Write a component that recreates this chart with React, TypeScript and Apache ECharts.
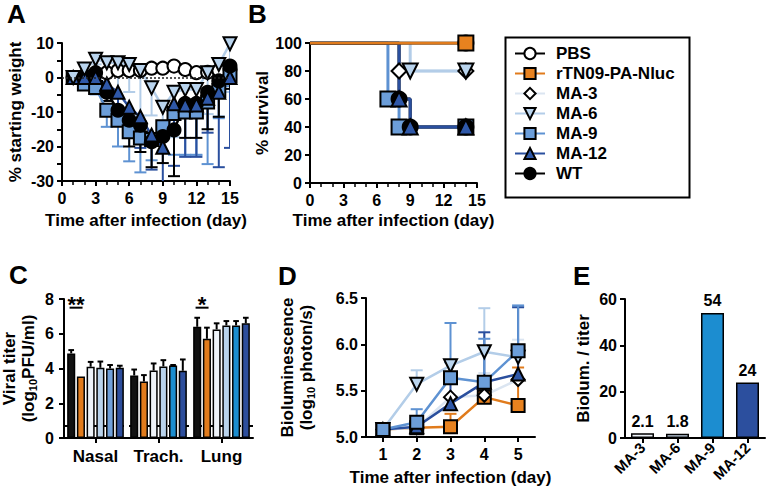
import React, { useEffect, useRef } from 'react';
import * as echarts from 'echarts';

const FONT = '"Liberation Sans", Arial, Helvetica, sans-serif';

// ---------- Panel A: % starting weight ----------
const weightDays = [1, 2, 3, 4, 5, 6, 7, 8, 9, 10, 11, 12, 13, 14, 15];
const weightPBS = [0, 0.5, 1, 1.4, 2, 2, 2, 2.7, 2.7, 3.3, 2.3, 1.4, 1.5, 2, 2.5];
const weightMA6 = [0, 2.5, 5.3, 4.3, 4.3, 3.8, 2, -3, -8.6, -4.3, -3.5, -3.5, 1.4, 3.8, 9.8];
const weightMA6sd = [0, 1, 1.5, 3, 10, 8, 13, 8, 5, 13, 19, 19, 12, 15, 14];
const weightMA9 = [0, -1.9, -2.9, -9.5, -12.4, -15.7, -17.5, -18, -14.3, -10.4, -10, -10, -7.1, -3.8, 0.5];
const weightMA9sd = [0, 1, 2, 4.8, 7.6, 8.6, 10, 6, 7, 12, 12.4, 12.4, 18, 8, 3];
const weightMA12 = [0, 0, 0, -1.9, -4.3, -8.6, -11.4, -16.7, -20.2, -7.6, -8, -8, -6, -4.3, 0];
const weightMA12sd = [0, 0.5, 1, 3, 5, 7, 9, 10, 12, 18, 15, 15, 10, 21.7, 20.4];
const weightWT = [0, 0, 1.4, -4.3, -9.5, -12.4, -13.8, -18.6, -17.1, -15.2, -7.5, -7.5, -4.3, -1, 3.3];
const weightWTsd = [0, 0.5, 1, 2.5, 3, 7.6, 7.8, 7.4, 7.7, 13.4, 10, 10, 10.7, 10.4, 6.6];

// ---------- Panel B: % survival ----------
const survPBSdays = [0, 14];
const survPBSpct = [100, 100];
const survRTdays = [0, 14];
const survRTpct = [100, 100];
const survMA3days = [0, 8, 14];
const survMA3pct = [100, 80, 80];
const survMA6days = [0, 9, 14];
const survMA6pct = [100, 80, 80];
const survMA9days = [0, 7, 8, 14];
const survMA9pct = [100, 60, 40, 40];
const survMA12days = [0, 8, 9, 14];
const survMA12pct = [100, 60, 40, 40];
const survWTdays = [0, 8, 9, 14];
const survWTpct = [100, 60, 40, 40];

// ---------- Panel C: viral titer ----------
const tissues = ['Nasal', 'Trach.', 'Lung'];
const titerWT = [4.87, 3.6, 6.4];
const titerWTsd = [0.19, 0.34, 0.52];
const titerRT = [3.54, 3.25, 5.71];
const titerRTsd = [0, 0.37, 0.64];
const titerMA3 = [4.1, 3.88, 6.25];
const titerMA3sd = [0.28, 0.41, 0.35];
const titerMA6 = [4.04, 4.12, 6.48];
const titerMA6sd = [0.36, 0.36, 0.25];
const titerMA9 = [4.0, 4.17, 6.48];
const titerMA9sd = [0.2, 0.03, 0.25];
const titerMA12 = [4.04, 3.87, 6.6];
const titerMA12sd = [0.12, 0.65, 0.32];
const detectionLimit = 0.7;
const sigCategory = [0, 2];
const sigLabel = ['**', '*'];
const sigHeight = 7.5;

// ---------- Panel D: bioluminescence ----------
const lumDays = ['1', '2', '3', '4', '5'];
const lumRT = [5.08, 5.1, 5.11, 5.43, 5.34];
const lumRTup = [null, null, 5.25, null, 5.75];
const lumMA3 = [5.08, 5.1, 5.43, 5.45, 5.62];
const lumMA3up = [null, null, null, 5.69, 6.05];
const lumMA6 = [5.08, 5.57, 5.77, 5.92, 5.86];
const lumMA6up = [null, 5.72, 5.8, 6.39, 6.41];
const lumMA9 = [5.08, 5.16, 5.64, 5.59, 5.93];
const lumMA9up = [null, 5.3, 6.23, 6.06, 6.42];
const lumMA12 = [5.08, 5.11, 5.36, 5.59, 5.68];
const lumMA12up = [null, null, 5.81, 6.13, 6.4];

// ---------- Panel E: bioluminescence / titer ----------
const ratioLabels = ['MA-3', 'MA-6', 'MA-9', 'MA-12'];
const ratioValues = [2.1, 1.8, 54, 24];

// ---------- styles ----------
const LINE: Record<string, string> = {
  PBS: '#000000', RT: '#e07b1c', MA3: '#dbe5f1', MA6: '#b3cde8', MA9: '#5e92d2', MA12: '#2a4f9e', WT: '#000000',
};
const FILL: Record<string, string> = {
  PBS: '#ffffff', RT: '#e8821f', MA3: '#ffffff', MA6: '#b9d4ee', MA9: '#6c9ed9', MA12: '#2f58a8', WT: '#000000',
};
const SYM: Record<string, string> = {
  PBS: 'circle', RT: 'rect', MA3: 'diamond', MA6: 'path://M0,0L20,0L10,18Z', MA9: 'rect', MA12: 'triangle', WT: 'circle',
};
const NAMES: Record<string, string> = {
  PBS: 'PBS', RT: 'rTN09-PA-Nluc', MA3: 'MA-3', MA6: 'MA-6', MA9: 'MA-9', MA12: 'MA-12', WT: 'WT',
};
const BAR_C = {
  WT: '#111111', RT: '#e07b1c', MA3: '#eef3f9', MA6: '#b9d3ec', MA9: ['#6f9fd8', '#1b8dcf', '#1b8dcf'], MA12: '#2d4e9c',
};
const BAR_E = ['#edf2f8', '#c4d4e6', '#1c8dd0', '#2c4f9e'];
const C_BARS = 6;
const C_GAP = 0.2;
const C_CAT_GAP = 0.1;

function axis(extra: any, label: any = {}, name: any = {}) {
  return {
    axisLine: { show: true, onZero: false, lineStyle: { color: '#000', width: 2 } },
    axisTick: { show: true, length: 5, lineStyle: { color: '#000', width: 2 } },
    axisLabel: { color: '#000', fontSize: 16, fontWeight: 'bold', fontFamily: FONT, margin: 8, hideOverlap: false, ...label },
    splitLine: { show: false },
    nameLocation: 'middle',
    nameTextStyle: { color: '#000', fontSize: 17, fontWeight: 'bold', fontFamily: FONT, ...name },
    ...extra,
  };
}

const minorDay = { show: true, splitNumber: 3, length: 4, lineStyle: { color: '#000', width: 1.5 } };

function lineSeries(key: string, grid: number, data: any[], extra: any = {}) {
  return {
    type: 'line',
    name: NAMES[key],
    xAxisIndex: grid,
    yAxisIndex: grid,
    data,
    z: 3,
    symbol: SYM[key],
    symbolSize: 13,
    lineStyle: { color: LINE[key], width: 2.5 },
    itemStyle: { color: FILL[key], borderColor: '#000', borderWidth: 2 },
    emphasis: { disabled: true },
    ...extra,
  };
}

function survival(key: string, days: number[], pct: number[]) {
  const data = days.map((d, i) => (i === 0 ? { value: [d, pct[i]], symbol: 'none' } : [d, pct[i]]));
  return lineSeries(key, 1, data, { step: 'end', symbolSize: 15, lineStyle: { color: LINE[key], width: 3 } });
}

function downErr(key: string, mean: number[], sd: number[]) {
  const data = weightDays.map((d, i) => [d, mean[i], mean[i] - sd[i], sd[i]]).filter((r) => r[3] > 0);
  return {
    type: 'custom',
    xAxisIndex: 0,
    yAxisIndex: 0,
    z: 2,
    clip: true,
    data,
    renderItem: (params: any, api: any) => {
      const a = api.coord([api.value(0), api.value(1)]);
      const b = api.coord([api.value(0), api.value(2)]);
      const st = { stroke: LINE[key], lineWidth: 2 };
      return {
        type: 'group',
        children: [
          { type: 'line', shape: { x1: a[0], y1: a[1], x2: b[0], y2: b[1] }, style: st },
          { type: 'line', shape: { x1: b[0] - 6, y1: b[1], x2: b[0] + 6, y2: b[1] }, style: st },
        ],
      };
    },
  };
}

function upErrD(key: string, mean: number[], up: (number | null)[]) {
  const data = mean.map((m, i) => [i, m, up[i]]).filter((r) => r[2] !== null);
  return {
    type: 'custom',
    xAxisIndex: 3,
    yAxisIndex: 3,
    z: 2,
    data,
    renderItem: (params: any, api: any) => {
      const a = api.coord([api.value(0), api.value(1)]);
      const b = api.coord([api.value(0), api.value(2)]);
      const st = { stroke: LINE[key], lineWidth: 2 };
      return {
        type: 'group',
        children: [
          { type: 'line', shape: { x1: a[0], y1: a[1], x2: b[0], y2: b[1] }, style: st },
          { type: 'line', shape: { x1: b[0] - 6, y1: b[1], x2: b[0] + 6, y2: b[1] }, style: st },
        ],
      };
    },
  };
}

function barGeom(api: any, cat: number, idx: number) {
  const band = api.size([1, 0])[0];
  const total = band * (1 - C_CAT_GAP);
  const w = total / (C_BARS + (C_BARS - 1) * C_GAP);
  const center = api.coord([cat, 0])[0];
  return { x: center - total / 2 + w / 2 + idx * w * (1 + C_GAP), w };
}

function barSeriesC(name: string, values: number[], color: any, extra: any = {}) {
  return {
    type: 'bar',
    name,
    xAxisIndex: 2,
    yAxisIndex: 2,
    z: 3,
    data: values,
    barGap: `${C_GAP * 100}%`,
    barCategoryGap: `${C_CAT_GAP * 100}%`,
    itemStyle: {
      color: Array.isArray(color) ? (p: any) => color[p.dataIndex] : color,
      borderColor: '#000',
      borderWidth: 1.5,
    },
    emphasis: { disabled: true },
    ...extra,
  };
}

export default function App() {
  const ref = useRef<HTMLDivElement>(null);

  useEffect(() => {
    const chart = echarts.init(ref.current!, null, { renderer: 'svg' });

    const cMeans = [titerWT, titerRT, titerMA3, titerMA6, titerMA9, titerMA12];
    const cSds = [titerWTsd, titerRTsd, titerMA3sd, titerMA6sd, titerMA9sd, titerMA12sd];
    const cErrData: number[][] = [];
    cMeans.forEach((arr, s) =>
      arr.forEach((m, c) => {
        if (cSds[s][c] > 0) cErrData.push([c, s, m, m + cSds[s][c]]);
      })
    );

    const tickCat = { show: true, alignWithLabel: true, length: 5, lineStyle: { color: '#000', width: 2 } };

    const option: any = {
      animation: false,
      backgroundColor: '#ffffff',
      textStyle: { fontFamily: FONT },
      grid: [
        { left: 62, top: 43, width: 168, height: 138 },
        { left: 310, top: 43, width: 167, height: 140 },
        { left: 61, top: 299, width: 192, height: 139 },
        { left: 366, top: 298, width: 169, height: 139 },
        { left: 625, top: 299, width: 140, height: 139 },
      ],
      xAxis: [
        axis({ gridIndex: 0, type: 'value', min: 0, max: 15, interval: 3, minorTick: minorDay, name: 'Time after infection (day)', nameGap: 31 }, { margin: 9 }),
        axis({ gridIndex: 1, type: 'value', min: 0, max: 15, interval: 3, minorTick: minorDay, name: 'Time after infection (day)', nameGap: 29 }, { margin: 9 }),
        axis({ gridIndex: 2, type: 'category', data: tissues, axisTick: tickCat }, { fontSize: 17, margin: 10, interval: 0 }),
        axis({ gridIndex: 3, type: 'category', data: lumDays, axisTick: tickCat, name: 'Time after infection (day)', nameGap: 32 }, { margin: 9, interval: 0 }),
        axis({ gridIndex: 4, type: 'category', data: ratioLabels, axisTick: tickCat }, { rotate: 45, fontSize: 15, margin: 7, interval: 0 }),
      ],
      yAxis: [
        axis({ gridIndex: 0, type: 'value', min: -30, max: 10, interval: 10, minorTick: { show: true, splitNumber: 2, length: 5, lineStyle: { color: '#000', width: 2 } }, name: '% starting weight', nameGap: 38 }),
        axis({ gridIndex: 1, type: 'value', min: 0, max: 100, interval: 20, name: '% survival', nameGap: 38 }),
        axis(
          {
            gridIndex: 2, type: 'value', min: 0, max: 8, interval: 2,
            name: '{t|Viral titer}\n{t|(log}{s|10}{t|PFU/ml)}', nameGap: 26,
          },
          { margin: 10 },
          {
            rich: {
              t: { fontSize: 17, fontWeight: 'bold', fontFamily: FONT, color: '#000', lineHeight: 19, verticalAlign: 'middle' },
              s: { fontSize: 11, fontWeight: 'bold', fontFamily: FONT, color: '#000', lineHeight: 19, verticalAlign: 'bottom' },
            },
          }
        ),
        axis(
          {
            gridIndex: 3, type: 'value', min: 5, max: 6.5, interval: 0.5,
            name: '{t|Bioluminescence}\n{t|(log}{s|10}{t| photon/s)}', nameGap: 50,
          },
          { formatter: (v: number) => v.toFixed(1) },
          {
            rich: {
              t: { fontSize: 17, fontWeight: 'bold', fontFamily: FONT, color: '#000', lineHeight: 19, verticalAlign: 'middle' },
              s: { fontSize: 11, fontWeight: 'bold', fontFamily: FONT, color: '#000', lineHeight: 19, verticalAlign: 'bottom' },
            },
          }
        ),
        axis({ gridIndex: 4, type: 'value', min: 0, max: 60, interval: 20, name: 'Biolum. / titer', nameGap: 33 }),
      ],
      legend: {
        left: 514,
        top: 45,
        orient: 'vertical',
        selectedMode: false,
        itemWidth: 30,
        itemHeight: 14,
        itemGap: 3,
        padding: 0,
        data: ['PBS', 'rTN09-PA-Nluc', 'MA-3', 'MA-6', 'MA-9', 'MA-12', 'WT'],
        textStyle: { color: '#000', fontSize: 17, fontWeight: 'bold', fontFamily: FONT, padding: [0, 0, 0, 6] },
      },
      graphic: [
        { type: 'rect', left: 503, top: 35, shape: { width: 184, height: 160 }, style: { fill: 'none', stroke: '#000', lineWidth: 2 } },
        { type: 'text', left: 7, top: 1, style: { text: 'A', font: `bold 26px ${FONT}`, fill: '#000' } },
        { type: 'text', left: 248, top: 1, style: { text: 'B', font: `bold 26px ${FONT}`, fill: '#000' } },
        { type: 'text', left: 9, top: 262, style: { text: 'C', font: `bold 26px ${FONT}`, fill: '#000' } },
        { type: 'text', left: 278, top: 263, style: { text: 'D', font: `bold 26px ${FONT}`, fill: '#000' } },
        { type: 'text', left: 573, top: 263, style: { text: 'E', font: `bold 26px ${FONT}`, fill: '#000' } },
      ],
      series: [
        // B: survival (first so legend icons come from here)
        survival('MA3', survMA3days, survMA3pct),
        survival('MA6', survMA6days, survMA6pct),
        survival('MA9', survMA9days, survMA9pct),
        survival('WT', survWTdays, survWTpct),
        survival('MA12', survMA12days, survMA12pct),
        survival('PBS', survPBSdays, survPBSpct),
        survival('RT', survRTdays, survRTpct),

        // A: weight
        downErr('MA6', weightMA6, weightMA6sd),
        downErr('MA9', weightMA9, weightMA9sd),
        downErr('MA12', weightMA12, weightMA12sd),
        downErr('WT', weightWT, weightWTsd),
        lineSeries('PBS', 0, weightDays.map((d, i) => [d, weightPBS[i]]), {
          lineStyle: { color: LINE.PBS, width: 1.5 },
          markLine: {
            silent: true, symbol: 'none', label: { show: false },
            lineStyle: { type: [2, 2], color: '#222', width: 1.5 },
            data: [{ yAxis: 0 }],
          },
        }),
        lineSeries('MA9', 0, weightDays.map((d, i) => [d, weightMA9[i]])),
        lineSeries('WT', 0, weightDays.map((d, i) => [d, weightWT[i]])),
        lineSeries('MA12', 0, weightDays.map((d, i) => [d, weightMA12[i]])),
        lineSeries('MA6', 0, weightDays.map((d, i) => [d, weightMA6[i]])),

        // C: detection limit (behind bars)
        {
          type: 'line',
          name: 'C detection limit',
          xAxisIndex: 2,
          yAxisIndex: 2,
          z: 1,
          data: [],
          markLine: {
            silent: true, symbol: 'none', label: { show: false }, z: 1,
            lineStyle: { type: [8, 5], color: '#000', width: 2 },
            data: [{ yAxis: detectionLimit }],
          },
        },
        // C: viral titer bars
        barSeriesC('C WT', titerWT, BAR_C.WT),
        barSeriesC('C rTN09-PA-Nluc', titerRT, BAR_C.RT),
        barSeriesC('C MA-3', titerMA3, BAR_C.MA3),
        barSeriesC('C MA-6', titerMA6, BAR_C.MA6),
        barSeriesC('C MA-9', titerMA9, BAR_C.MA9),
        barSeriesC('C MA-12', titerMA12, BAR_C.MA12),
        {
          type: 'custom',
          xAxisIndex: 2,
          yAxisIndex: 2,
          z: 4,
          data: cErrData,
          renderItem: (params: any, api: any) => {
            const g = barGeom(api, api.value(0), api.value(1));
            const y1 = api.coord([api.value(0), api.value(2)])[1];
            const y2 = api.coord([api.value(0), api.value(3)])[1];
            const st = { stroke: '#000', lineWidth: 2 };
            return {
              type: 'group',
              children: [
                { type: 'line', shape: { x1: g.x, y1, x2: g.x, y2 }, style: st },
                { type: 'line', shape: { x1: g.x - g.w * 0.35, y1: y2, x2: g.x + g.w * 0.35, y2 }, style: st },
              ],
            };
          },
        },
        {
          type: 'custom',
          xAxisIndex: 2,
          yAxisIndex: 2,
          z: 4,
          data: sigCategory.map((c, i) => [c, sigHeight, i]),
          renderItem: (params: any, api: any) => {
            const a = barGeom(api, api.value(0), 0);
            const b = barGeom(api, api.value(0), 1);
            const y = api.coord([api.value(0), api.value(1)])[1];
            return {
              type: 'group',
              children: [
                { type: 'line', shape: { x1: a.x - a.w * 0.2, y1: y, x2: b.x + b.w * 0.2, y2: y }, style: { stroke: '#000', lineWidth: 2 } },
                {
                  type: 'text',
                  style: {
                    text: sigLabel[api.value(2)], x: (a.x + b.x) / 2, y: y - 3,
                    align: 'center', verticalAlign: 'middle',
                    font: `bold 22px ${FONT}`, fill: '#000',
                  },
                },
              ],
            };
          },
        },

        // D: bioluminescence
        upErrD('RT', lumRT, lumRTup),
        upErrD('MA6', lumMA6, lumMA6up),
        upErrD('MA3', lumMA3, lumMA3up),
        upErrD('MA12', lumMA12, lumMA12up),
        upErrD('MA9', lumMA9, lumMA9up),
        lineSeries('RT', 3, lumRT),
        lineSeries('MA6', 3, lumMA6),
        lineSeries('MA3', 3, lumMA3),
        lineSeries('MA12', 3, lumMA12),
        lineSeries('MA9', 3, lumMA9),

        // E: ratio bars
        {
          type: 'bar',
          name: 'Biolum. / titer',
          xAxisIndex: 4,
          yAxisIndex: 4,
          data: ratioValues,
          barWidth: 23,
          itemStyle: { color: (p: any) => BAR_E[p.dataIndex], borderColor: '#000', borderWidth: 1.5 },
          label: { show: true, position: 'top', distance: 4, color: '#000', fontSize: 16, fontWeight: 'bold', fontFamily: FONT },
          emphasis: { disabled: true },
        },
      ],
    };

    chart.setOption(option);
    return () => chart.dispose();
  }, []);

  return (
    <div
      ref={ref}
      style={{ position: 'fixed', left: 0, top: 0, width: 766, height: 495, background: '#fff' }}
    />
  );
}
